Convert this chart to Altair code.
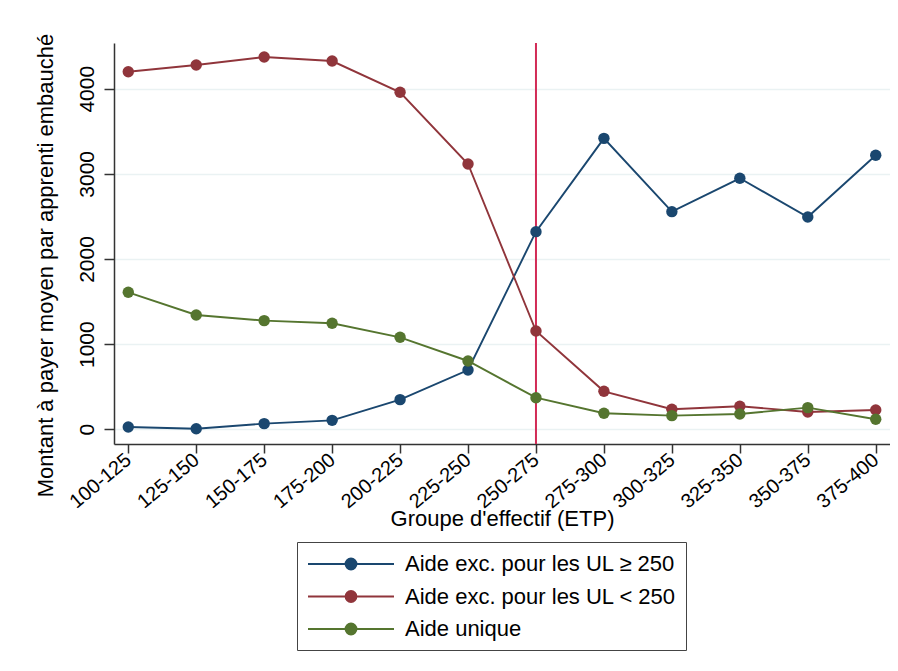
import altair as alt
import pandas as pd

groups = ["100-125", "125-150", "150-175", "175-200", "200-225", "225-250",
          "250-275", "275-300", "300-325", "325-350", "350-375", "375-400"]
aide_ge250 = [27, 7, 66, 105, 348, 696, 2321, 3417, 2556, 2948, 2493, 3218]
aide_lt250 = [4200, 4278, 4372, 4325, 3958, 3116, 1154, 446, 235, 270, 203, 227]
aide_unique = [1609, 1342, 1276, 1245, 1080, 802, 371, 188, 160, 180, 254, 117]
series_names = ["Aide exc. pour les UL \u2265 250", "Aide exc. pour les UL < 250", "Aide unique"]
series_colors = ["#1a476f", "#90353b", "#55752f"]
y_ticks = [0, 1000, 2000, 3000, 4000]
threshold_group = ["250-275"]

rows = []
for name, vals in zip(series_names, [aide_ge250, aide_lt250, aide_unique]):
    for g, v in zip(groups, vals):
        rows.append({"groupe": g, "montant": v, "serie": name})
df = pd.DataFrame(rows)
rule_df = pd.DataFrame({"groupe": threshold_group})

FONT = "Liberation Sans"

x_enc = alt.X(
    "groupe:N", sort=groups,
    scale=alt.Scale(type="point", padding=0.21),
    axis=alt.Axis(
        title="Groupe d'effectif (ETP)", labelAngle=320, labelAlign="right",
        labelBaseline="middle", labelPadding=4, tickSize=9, labelFontSize=20,
        titleFontSize=22, titlePadding=-3, grid=False,
    ),
)
y_enc = alt.Y(
    "montant:Q",
    scale=alt.Scale(domain=[-173, 4537], nice=False, zero=False),
    axis=alt.Axis(
        title="Montant \u00e0 payer moyen par apprenti embauch\u00e9", values=y_ticks,
        format="d",
        labelAngle=270, labelAlign="center", labelBaseline="bottom",
        labelPadding=7, tickSize=10, labelFontSize=21, titleFontSize=22,
        titleX=-57, titleY=222, titleBaseline="bottom", grid=True,
        gridColor="#eaf2f3", gridWidth=1.5,
    ),
)

# legend glyph: horizontal line with a dot (dot drawn as concentric rings);
# unit = 11 px (symbolSize 484)
symbol_path = "M-1,0L6.818,0"
cx = 2.909
for r in [0.055, 0.164, 0.273, 0.382, 0.455, 0.5]:
    symbol_path += f"M{cx + r:.3f},0A{r},{r},0,1,1,{cx - r:.3f},0A{r},{r},0,1,1,{cx + r:.3f},0"

legend = alt.Legend(
    orient="none", legendX=183, legendY=499, direction="vertical",
    symbolType=symbol_path, symbolSize=484, symbolStrokeWidth=1.8,
    symbolOpacity=1,
    labelFontSize=22, labelFont=FONT, labelColor="black", labelOffset=74,
    labelLimit=500, rowPadding=9.5, padding=10, strokeColor="#444",
)
color_leg = alt.Color(
    "serie:N", title=None,
    scale=alt.Scale(domain=series_names, range=series_colors),
    legend=legend,
)
color_noleg = alt.Color(
    "serie:N", title=None,
    scale=alt.Scale(domain=series_names, range=series_colors),
    legend=None,
)

rule = alt.Chart(rule_df).mark_rule(color="#d22b56", strokeWidth=2).encode(x=x_enc)
lines = alt.Chart(df).mark_line(strokeWidth=1.9).encode(x=x_enc, y=y_enc, color=color_leg)
points = alt.Chart(df).mark_point(filled=True, size=130, opacity=1).encode(
    x=x_enc, y=y_enc, color=color_noleg)

chart = (
    alt.layer(rule, lines, points)
    .properties(
        width=776, height=401,
        autosize=alt.AutoSizeParams(type="none"),
        padding={"left": 106, "top": 35, "right": 0, "bottom": 210},
        background="white",
    )
    .configure_view(stroke="transparent")
    .configure_axis(
        labelFont=FONT, titleFont=FONT, labelColor="black", titleColor="black",
        domainColor="#333", tickColor="#333", domainWidth=1.5, tickWidth=1.5,
        titleFontWeight="normal",
    )
)

chart.save("out.html", embed_options={"renderer": "svg", "actions": False})
